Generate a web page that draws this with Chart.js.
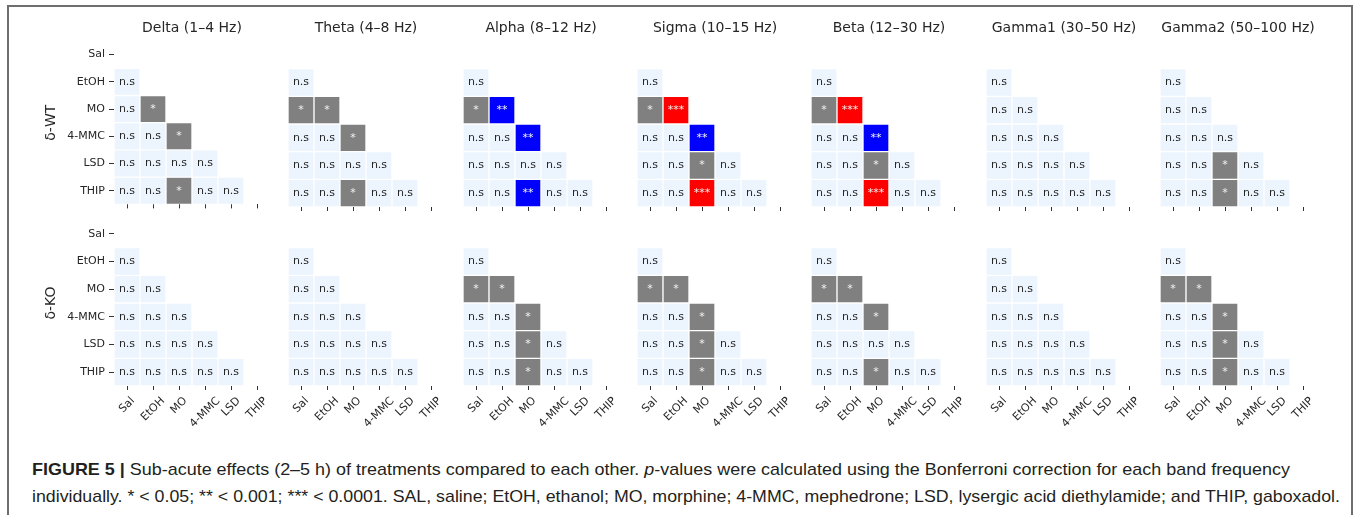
<!DOCTYPE html>
<html>
<head>
<meta charset="utf-8">
<script src="https://cdn.jsdelivr.net/npm/chart.js@4.4.1/dist/chart.umd.min.js"></script>
<style>
  body { margin: 0; background: #fff; width: 1354px; height: 515px; overflow: hidden; position: relative; font-family: "DejaVu Sans", sans-serif; }
  .frame { position: absolute; left: 7px; top: 5px; width: 1342px; height: 530px; border: 2px solid #6e6e6e; border-bottom: none; }
  .panel { position: absolute; }
  .cap { position: absolute; left: 32px; font-family: "Liberation Sans", Arial, sans-serif; font-size: 17px; line-height: 19px; color: #231f20; white-space: nowrap; transform-origin: 0 50%; }
</style>
</head>
<body>
<div class="frame"></div>
<div id="panels"></div>
<div class="cap" id="cap1" style="top:460px"><b>FIGURE 5 |</b> Sub-acute effects (2–5 h) of treatments compared to each other. <i>p</i>-values were calculated using the Bonferroni correction for each band frequency</div>
<div class="cap" id="cap2" style="top:487px">individually. * &lt; 0.05; ** &lt; 0.001; *** &lt; 0.0001. SAL, saline; EtOH, ethanol; MO, morphine; 4-MMC, mephedrone; LSD, lysergic acid diethylamide; and THIP, gaboxadol.</div>
<script>
const treatments = ['Sal', 'EtOH', 'MO', '4-MMC', 'LSD', 'THIP'];
const bands = ['Delta (1–4 Hz)', 'Theta (4–8 Hz)', 'Alpha (8–12 Hz)', 'Sigma (10–15 Hz)',
  'Beta (12–30 Hz)', 'Gamma1 (30–50 Hz)', 'Gamma2 (50–100 Hz)'];
const genotypes = ['δ-WT', 'δ-KO'];

// lower triangle of each panel, rows EtOH..THIP against columns Sal..LSD
const sigWT = [
  [['n.s'], ['n.s', '*'], ['n.s', 'n.s', '*'], ['n.s', 'n.s', 'n.s', 'n.s'], ['n.s', 'n.s', '*', 'n.s', 'n.s']],
  [['n.s'], ['*', '*'], ['n.s', 'n.s', '*'], ['n.s', 'n.s', 'n.s', 'n.s'], ['n.s', 'n.s', '*', 'n.s', 'n.s']],
  [['n.s'], ['*', '**'], ['n.s', 'n.s', '**'], ['n.s', 'n.s', 'n.s', 'n.s'], ['n.s', 'n.s', '**', 'n.s', 'n.s']],
  [['n.s'], ['*', '***'], ['n.s', 'n.s', '**'], ['n.s', 'n.s', '*', 'n.s'], ['n.s', 'n.s', '***', 'n.s', 'n.s']],
  [['n.s'], ['*', '***'], ['n.s', 'n.s', '**'], ['n.s', 'n.s', '*', 'n.s'], ['n.s', 'n.s', '***', 'n.s', 'n.s']],
  [['n.s'], ['n.s', 'n.s'], ['n.s', 'n.s', 'n.s'], ['n.s', 'n.s', 'n.s', 'n.s'], ['n.s', 'n.s', 'n.s', 'n.s', 'n.s']],
  [['n.s'], ['n.s', 'n.s'], ['n.s', 'n.s', 'n.s'], ['n.s', 'n.s', '*', 'n.s'], ['n.s', 'n.s', '*', 'n.s', 'n.s']]
];
const sigKO = [
  [['n.s'], ['n.s', 'n.s'], ['n.s', 'n.s', 'n.s'], ['n.s', 'n.s', 'n.s', 'n.s'], ['n.s', 'n.s', 'n.s', 'n.s', 'n.s']],
  [['n.s'], ['n.s', 'n.s'], ['n.s', 'n.s', 'n.s'], ['n.s', 'n.s', 'n.s', 'n.s'], ['n.s', 'n.s', 'n.s', 'n.s', 'n.s']],
  [['n.s'], ['*', '*'], ['n.s', 'n.s', '*'], ['n.s', 'n.s', '*', 'n.s'], ['n.s', 'n.s', '*', 'n.s', 'n.s']],
  [['n.s'], ['*', '*'], ['n.s', 'n.s', '*'], ['n.s', 'n.s', '*', 'n.s'], ['n.s', 'n.s', '*', 'n.s', 'n.s']],
  [['n.s'], ['*', '*'], ['n.s', 'n.s', '*'], ['n.s', 'n.s', 'n.s', 'n.s'], ['n.s', 'n.s', '*', 'n.s', 'n.s']],
  [['n.s'], ['n.s', 'n.s'], ['n.s', 'n.s', 'n.s'], ['n.s', 'n.s', 'n.s', 'n.s'], ['n.s', 'n.s', 'n.s', 'n.s', 'n.s']],
  [['n.s'], ['*', '*'], ['n.s', 'n.s', '*'], ['n.s', 'n.s', '*', 'n.s'], ['n.s', 'n.s', '*', 'n.s', 'n.s']]
];

const sigColors = { 'n.s': '#ecf4fe', '*': '#808080', '**': '#0000ff', '***': '#ff0000' };
const textDark = '#262626';

// layout of the grid
const gridLeft0 = 114, colStep = 174.3, gridW = 156, gridH = 166;
const gridTops = [41, 220];

const cellText = {
  id: 'cellText',
  afterDatasetsDraw(chart) {
    const ctx = chart.ctx;
    ctx.save();
    ctx.font = '11px "DejaVu Sans"';
    ctx.textAlign = 'center';
    ctx.textBaseline = 'middle';
    chart.data.datasets.forEach((ds, i) => {
      chart.getDatasetMeta(i).data.forEach((bar, j) => {
        const lab = ds.cellLabels[j];
        if (!lab) return;
        ctx.fillStyle = lab === 'n.s' ? textDark : '#f4f4f4';
        ctx.fillText(lab, bar.x, (bar.y + bar.base) / 2);
      });
    });
    ctx.restore();
  }
};

const rotatedTicks = {
  id: 'rotatedTicks',
  afterDraw(chart, args, opts) {
    if (!opts.show) return;
    const xs = chart.scales.x;
    const ctx = chart.ctx;
    const a = Math.PI / 4;
    const top = chart.chartArea.bottom + 10;
    ctx.save();
    ctx.font = '11px "DejaVu Sans"';
    ctx.fillStyle = textDark;
    ctx.textAlign = 'center';
    ctx.textBaseline = 'middle';
    chart.data.labels.forEach((label, i) => {
      const w = ctx.measureText(label).width;
      const bh = (w + 9) * Math.sin(a);
      ctx.save();
      ctx.translate(xs.getPixelForTick(i), top + bh / 2);
      ctx.rotate(-a);
      ctx.fillText(label, 0, 0);
      ctx.restore();
    });
    ctx.restore();
  }
};

const panelTitle = {
  id: 'panelTitle',
  afterDraw(chart, args, opts) {
    if (!opts.text) return;
    const { left, right, top } = chart.chartArea;
    const ctx = chart.ctx;
    ctx.save();
    ctx.font = '14px "DejaVu Sans"';
    ctx.fillStyle = textDark;
    ctx.textAlign = 'center';
    ctx.textBaseline = 'middle';
    ctx.fillText(opts.text, (left + right) / 2, top - 13);
    ctx.restore();
  }
};

function buildDatasets(sig) {
  const sets = [];
  for (let r = 1; r < treatments.length; r++) {
    const labels = treatments.map((t, c) => c < r ? sig[r - 1][c] : null);
    sets.push({
      data: labels.map(l => l ? [r, r + 1] : null),
      cellLabels: labels,
      backgroundColor: labels.map(l => l ? sigColors[l] : 'transparent'),
      borderColor: '#ffffff',
      borderWidth: 1,
      borderSkipped: false,
      barPercentage: 1,
      categoryPercentage: 1,
      grouped: false
    });
  }
  return sets;
}

function makePanel(g, c) {
  const sig = g === 0 ? sigWT[c] : sigKO[c];
  const gridLeft = Math.round(gridLeft0 + c * colStep);
  const padL = c === 0 ? gridLeft : 30;
  const padT = g === 0 ? 40 : 12;
  const padB = g === 1 ? 50 : 8;
  const padR = 30;

  const holder = document.createElement('div');
  holder.className = 'panel';
  holder.style.left = (gridLeft - padL) + 'px';
  holder.style.top = (gridTops[g] - padT) + 'px';
  const canvas = document.createElement('canvas');
  canvas.width = padL + gridW + padR;
  canvas.height = padT + gridH + padB;
  holder.appendChild(canvas);
  document.getElementById('panels').appendChild(holder);

  const yOpts = {
    display: c === 0,
    min: 0,
    max: 6,
    reverse: true,
    border: { display: false },
    grid: { drawOnChartArea: false, tickLength: 5, tickColor: '#333', tickWidth: 1 },
    afterBuildTicks: s => { s.ticks = treatments.map((t, i) => ({ value: i + 0.5 })); },
    ticks: {
      autoSkip: false,
      padding: 4,
      color: textDark,
      font: { family: 'DejaVu Sans', size: 11 },
      callback: v => treatments[Math.floor(v)]
    },
    title: {
      display: true,
      text: genotypes[g],
      color: textDark,
      font: { family: 'DejaVu Sans', size: 14 }
    }
  };
  if (c === 0) yOpts.afterFit = s => { s.width = 75; };

  new Chart(canvas, {
    type: 'bar',
    data: { labels: treatments, datasets: buildDatasets(sig) },
    plugins: [cellText, rotatedTicks, panelTitle],
    options: {
      responsive: false,
      animation: false,
      events: [],
      layout: { padding: { left: c === 0 ? 39 : padL, top: padT, right: padR, bottom: 0 } },
      scales: {
        x: {
          type: 'category',
          offset: true,
          border: { display: false },
          grid: { drawOnChartArea: false, offset: false, tickLength: 4, tickColor: '#333', tickWidth: 1 },
          ticks: { display: false },
          afterFit: s => { s.height = padB; }
        },
        y: yOpts
      },
      plugins: {
        legend: { display: false },
        tooltip: { enabled: false },
        rotatedTicks: { show: g === 1 },
        panelTitle: { text: g === 0 ? bands[c] : '' }
      }
    }
  });
}

for (let g = 0; g < genotypes.length; g++) {
  for (let c = 0; c < bands.length; c++) makePanel(g, c);
}

// caption lines squeezed to the widths used in the figure
function fitLine(id, width) {
  const el = document.getElementById(id);
  const k = width / el.getBoundingClientRect().width;
  el.style.transform = 'scaleX(' + k + ')';
}
fitLine('cap1', 1258);
fitLine('cap2', 1308);
</script>
</body>
</html>
